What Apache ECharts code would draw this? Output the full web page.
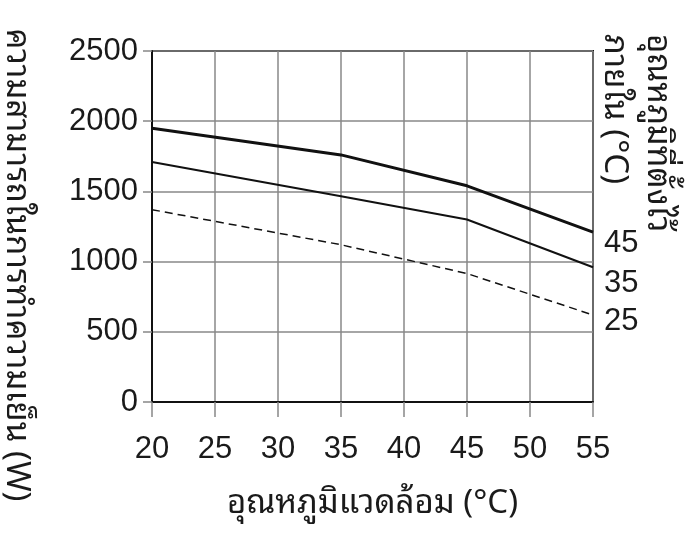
<!DOCTYPE html>
<html><head><meta charset="utf-8">
<script src="https://cdn.jsdelivr.net/npm/echarts@6/dist/echarts.min.js"></script>
<style>html,body{margin:0;padding:0;background:#fff}#c{width:700px;height:533px}</style>
</head><body><div id="c"></div>
<script>
const xTicks = [20, 25, 30, 35, 40, 45, 50, 55];
const yTicks = [0, 500, 1000, 1500, 2000, 2500];
const seriesNames = ['45', '35', '25'];
const line45 = [[20, 1950], [35, 1760], [45, 1540], [55, 1210]];
const line35 = [[20, 1710], [35, 1465], [45, 1300], [55, 960]];
const line25 = [[20, 1370], [35, 1120], [45, 915], [55, 620]];
const yTitle = 'ความสามารถในการทำความเย็น (W)';
const xTitle = 'อุณหภูมิแวดล้อม (°C)';
const rightTitle = ['อุณหภูมิที่ตั้งไว้', 'ภายใน (°C)'];

const font = 'Liberation Sans, Arial, sans-serif';
const thaiFont = '"Noto Sans Thai Looped", "Noto Sans", "DejaVu Sans", sans-serif';
const FS = 31;
const TFS = 33;
const chart = echarts.init(document.getElementById('c'));
const mk = (name, data, width, type, off) => ({
  name, type: 'line', data, symbol: 'none', silent: true,
  lineStyle: {color: '#111', width, type},
  endLabel: {show: true, formatter: '{a}', color: '#1a1a1a', fontSize: FS, fontFamily: font, distance: 11, offset: [0, off]}
});
chart.setOption({
  animation: false,
  grid: {left: 152, right: 107, top: 51, bottom: 131, show: true, borderColor: '#111', borderWidth: 2},
  xAxis: {
    type: 'value', min: xTicks[0], max: xTicks[xTicks.length - 1], interval: 5,
    name: xTitle, nameLocation: 'middle', nameGap: 85,
    nameTextStyle: {fontSize: TFS, color: '#1a1a1a', fontFamily: thaiFont},
    axisLine: {show: true, onZero: false, lineStyle: {color: '#111', width: 2}},
    axisTick: {show: true, length: 15, lineStyle: {color: '#888', width: 1.5}},
    axisLabel: {fontSize: FS, color: '#1a1a1a', fontFamily: font, margin: 32},
    splitLine: {show: true, lineStyle: {color: '#888', width: 1.5}}
  },
  yAxis: {
    type: 'value', min: yTicks[0], max: yTicks[yTicks.length - 1], interval: 500,
    axisLine: {show: true, lineStyle: {color: '#111', width: 2}},
    axisTick: {show: true, length: 9, lineStyle: {color: '#888', width: 1.5}},
    axisLabel: {fontSize: FS, color: '#1a1a1a', fontFamily: font, margin: 14, formatter: v => String(v)},
    splitLine: {show: true, lineStyle: {color: '#888', width: 1.5}}
  },
  series: [
    mk(seriesNames[0], line45, 3, 'solid', 11),
    mk(seriesNames[1], line35, 2, 'solid', 16),
    mk(seriesNames[2], line25, 1.5, [8, 5], 7)
  ],
  graphic: [
    {type: 'text', x: 16, y: 265, rotation: -Math.PI / 2,
     style: {text: yTitle, fontSize: TFS, fill: '#1a1a1a', fontFamily: thaiFont, align: 'center', verticalAlign: 'middle'}},
    {type: 'text', x: 679, y: 34, rotation: -Math.PI / 2,
     style: {text: rightTitle.join('\n'), fontSize: TFS, lineHeight: 43, fill: '#1a1a1a', fontFamily: thaiFont, align: 'left', verticalAlign: 'top'}}
  ]
});
</script></body></html>
